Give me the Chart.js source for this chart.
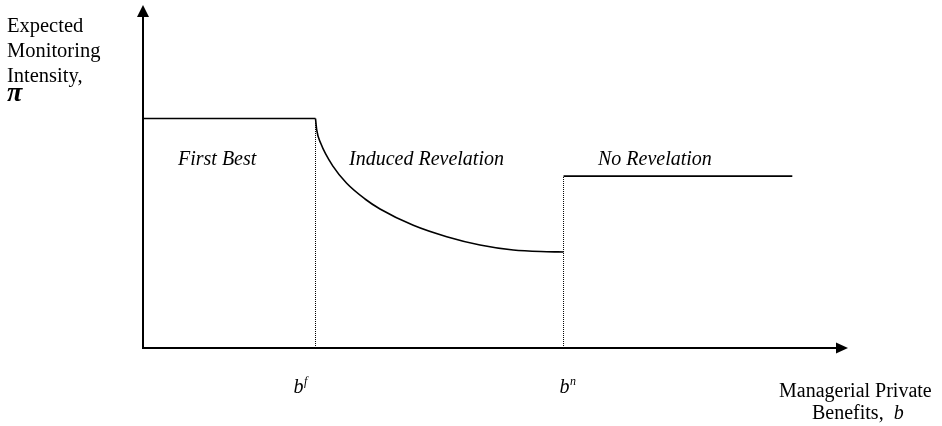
<!DOCTYPE html>
<html>
<head>
<meta charset="utf-8">
<script src="https://cdn.jsdelivr.net/npm/chart.js@4"></script>
<style>
  html, body { margin: 0; padding: 0; background: #ffffff; }
  #wrap { width: 942px; height: 426px; position: relative; }
</style>
</head>
<body>
<div id="wrap"><canvas id="c" width="942" height="426"></canvas></div>
<script>
// ---- data (abstract units: x = private benefits b, y = monitoring intensity pi) ----
const thresholdX = [24.47, 59.65];        // b^f, b^n
const tickBase = ['b', 'b'];
const tickSup = ['f', 'n'];
const firstBestX = [0, 24.47];
const firstBestY = [66.9, 66.9];
const curveX = [24.47, 24.64, 25.21, 26.99, 28.89, 31.49, 33.62, 38.34, 43.08, 47.8, 52.52, 57.26, 59.65];
const curveY = [66.9, 63.56, 59.68, 52.86, 48.02, 43.44, 40.52, 35.77, 32.45, 30.03, 28.57, 28.08, 27.99];
const noRevX = [59.65, 92.1];
const noRevY = [50.1, 50.1];
const regionLabels = ['First Best', 'Induced Revelation', 'No Revelation'];
const yTitle = ['Expected', 'Monitoring', 'Intensity,'];
const yTitleSymbol = 'π';
const xTitle = ['Managerial Private', 'Benefits,'];
const xTitleSymbol = 'b';

const pts = (xs, ys) => xs.map((x, i) => ({ x: x, y: ys[i] }));

const solid = { borderColor: '#000', borderWidth: 1.6, pointRadius: 0, showLine: true, fill: false, clip: false };
const dotted = { borderColor: '#000', borderWidth: 1, borderDash: [1, 1], pointRadius: 0, showLine: true, fill: false, clip: false };

const datasets = [
  Object.assign({ data: pts(firstBestX, firstBestY) }, solid),
  Object.assign({ data: pts(curveX, curveY), cubicInterpolationMode: 'monotone' }, solid),
  Object.assign({ data: pts(noRevX, noRevY) }, solid),
  Object.assign({ data: [{ x: thresholdX[0], y: 0 }, { x: thresholdX[0], y: firstBestY[1] }] }, dotted),
  Object.assign({ data: [{ x: thresholdX[1], y: 0 }, { x: thresholdX[1], y: noRevY[0] }] }, dotted)
];

const SERIF = '"Liberation Serif", "Times New Roman", serif';

const decor = {
  id: 'decor',
  beforeDatasetsDraw(chart) {
    const ctx = chart.ctx;
    const xs = chart.scales.x, ys = chart.scales.y;
    const x0 = xs.getPixelForValue(0), y0 = ys.getPixelForValue(0);
    const xEnd = xs.getPixelForValue(100), yEnd = ys.getPixelForValue(100);
    ctx.save();
    ctx.strokeStyle = '#000';
    ctx.fillStyle = '#000';
    ctx.lineWidth = 2;
    ctx.beginPath();
    ctx.moveTo(x0, y0);
    ctx.lineTo(xEnd - 10, y0);
    ctx.moveTo(x0, y0 + 1);
    ctx.lineTo(x0, yEnd + 10);
    ctx.stroke();
    ctx.beginPath();
    ctx.moveTo(xEnd, y0);
    ctx.lineTo(xEnd - 12, y0 - 5.5);
    ctx.lineTo(xEnd - 12, y0 + 5.5);
    ctx.closePath();
    ctx.fill();
    ctx.beginPath();
    ctx.moveTo(x0, yEnd);
    ctx.lineTo(x0 - 6, yEnd + 12);
    ctx.lineTo(x0 + 6, yEnd + 12);
    ctx.closePath();
    ctx.fill();
    ctx.restore();
  },
  afterDraw(chart) {
    const ctx = chart.ctx;
    const xs = chart.scales.x;
    ctx.save();
    ctx.fillStyle = '#000';
    ctx.textBaseline = 'alphabetic';
    ctx.font = '20.5px ' + SERIF;
    ctx.textAlign = 'left';
    yTitle.forEach((t, i) => ctx.fillText(t, 7, 32 + i * 25));
    ctx.font = 'italic bold 28px ' + SERIF;
    ctx.fillText(yTitleSymbol, 7, 101);
    ctx.font = 'italic 20px ' + SERIF;
    ctx.fillText(regionLabels[0], 178, 165);
    ctx.fillText(regionLabels[1], 349, 165);
    ctx.fillText(regionLabels[2], 598, 165);
    thresholdX.forEach((v, i) => {
      const px = xs.getPixelForValue(v);
      ctx.font = 'italic 20px ' + SERIF;
      const bx = px - (i === 0 ? 22 : 4);
      ctx.fillText(tickBase[i], bx, 393);
      const w = ctx.measureText(tickBase[i]).width;
      ctx.font = 'italic 12px ' + SERIF;
      ctx.fillText(tickSup[i], bx + w + 0.5, 385);
    });
    ctx.font = '20px ' + SERIF;
    ctx.fillText(xTitle[0], 779, 397);
    ctx.fillText(xTitle[1], 812, 419);
    const w1 = ctx.measureText(xTitle[1] + '  ').width;
    ctx.font = 'italic 20px ' + SERIF;
    ctx.fillText(xTitleSymbol, 812 + w1, 419);
    ctx.restore();
  }
};

new Chart(document.getElementById('c'), {
  type: 'scatter',
  data: { datasets: datasets },
  options: {
    responsive: false,
    animation: false,
    events: [],
    layout: { padding: { left: 143, right: 94, top: 5, bottom: 78 } },
    plugins: { legend: { display: false }, tooltip: { enabled: false } },
    scales: {
      x: { type: 'linear', min: 0, max: 100, display: false },
      y: { type: 'linear', min: 0, max: 100, display: false }
    }
  },
  plugins: [decor]
});
</script>
</body>
</html>
